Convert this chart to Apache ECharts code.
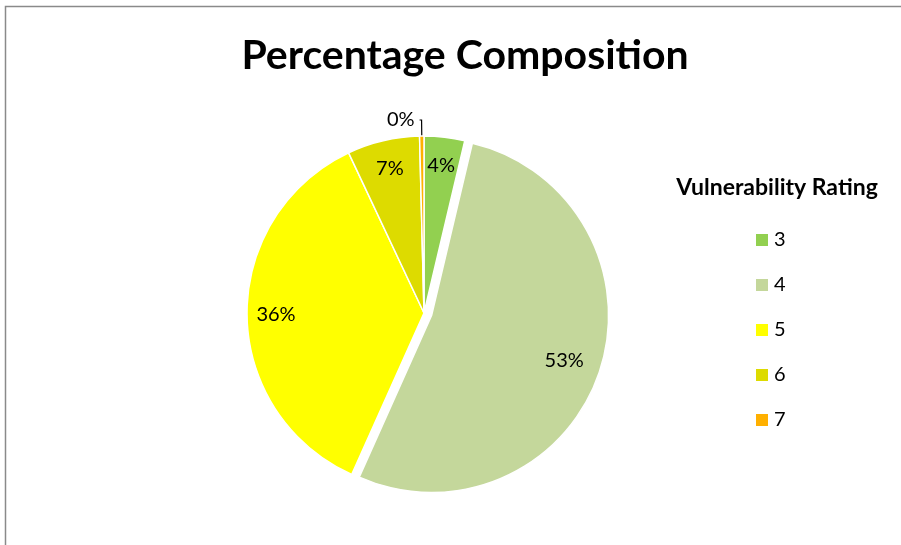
<!DOCTYPE html>
<html>
<head>
<meta charset="utf-8">
<title>Percentage Composition</title>
<script src="https://cdn.jsdelivr.net/npm/echarts@6/dist/echarts.min.js"></script>
<style>
  html, body { margin: 0; padding: 0; background: #ffffff; }
  #chart { width: 901px; height: 545px; }
</style>
</head>
<body>
<div id="chart"></div>
<script>
// Vulnerability rating categories and their share (percent) of the total
const ratings = ['3', '4', '5', '6', '7'];
const shares = [3.7, 53.0, 36.3, 6.6, 0.4];
const colors = ['#92D050', '#C4D79B', '#FFFF00', '#DDDB00', '#FFB000'];
const explodedRating = '4';

const FONT = 'Lato, "Open Sans", sans-serif';

const pctLabel = p => Math.round(p.percent) + '%';

// Main pie: the coloured wedges; only the tiny slice gets an outside label
const wedgeData = ratings.map((r, i) => ({
  name: r,
  value: shares[i],
  selected: r === explodedRating,
  itemStyle: { color: colors[i] },
  label: i === ratings.length - 1
    ? { show: true, position: 'outside', formatter: pctLabel, color: '#000', fontSize: 20, fontFamily: FONT }
    : { show: false },
  labelLine: i === ratings.length - 1
    ? { show: true, length: 16, length2: 2, lineStyle: { color: '#000', width: 1.2 } }
    : { show: false }
}));

// Label ring: same values, invisible wedges, labels placed at mid-radius
const labelData = ratings.map((r, i) => ({
  name: r,
  value: shares[i],
  label: { show: i !== ratings.length - 1 }
}));

const chart = echarts.init(document.getElementById('chart'), null, { renderer: 'canvas' });

chart.setOption({
  backgroundColor: '#ffffff',
  animation: false,
  title: [
    {
      text: 'Percentage Composition',
      left: 460, top: 30, textAlign: 'center',
      textStyle: { fontFamily: FONT, fontWeight: 'bold', fontSize: 41, color: '#000' }
    },
    {
      text: 'Vulnerability Rating',
      left: 772, top: 171, textAlign: 'center',
      textStyle: { fontFamily: FONT, fontWeight: 'bold', fontSize: 23, color: '#000' }
    }
  ],
  legend: {
    orient: 'vertical',
    left: 754, top: 230,
    padding: 0,
    itemWidth: 14, itemHeight: 14,
    itemGap: 25,
    icon: 'rect',
    data: ratings.map((r, i) => ({ name: r, itemStyle: { color: colors[i], opacity: 1 } })),
    textStyle: { fontFamily: FONT, fontSize: 20, color: '#000', lineHeight: 20 },
    selectedMode: false
  },
  graphic: [
    {
      type: 'rect',
      shape: { x: 5.5, y: 6.5, width: 1000, height: 1000 },
      style: { fill: 'none', stroke: '#8a8a8a', lineWidth: 1.5 },
      silent: true
    }
  ],
  series: [
    {
      type: 'pie',
      name: 'wedges',
      center: [424, 313],
      radius: [0, 177],
      startAngle: 90,
      clockwise: true,
      selectedMode: 'single',
      selectedOffset: 8,
      avoidLabelOverlap: false,
      emphasis: { disabled: true },
      itemStyle: { borderColor: '#ffffff', borderWidth: 1.5 },
      data: wedgeData
    },
    {
      type: 'pie',
      name: 'labels',
      center: [424, 313],
      radius: [0, 290],
      startAngle: 90,
      clockwise: true,
      silent: true,
      emphasis: { disabled: true },
      itemStyle: { opacity: 0 },
      labelLine: { show: false },
      label: {
        position: 'inside',
        formatter: pctLabel,
        color: '#000',
        fontSize: 20,
        fontFamily: FONT,
        opacity: 1
      },
      data: labelData
    }
  ]
});
</script>
</body>
</html>
